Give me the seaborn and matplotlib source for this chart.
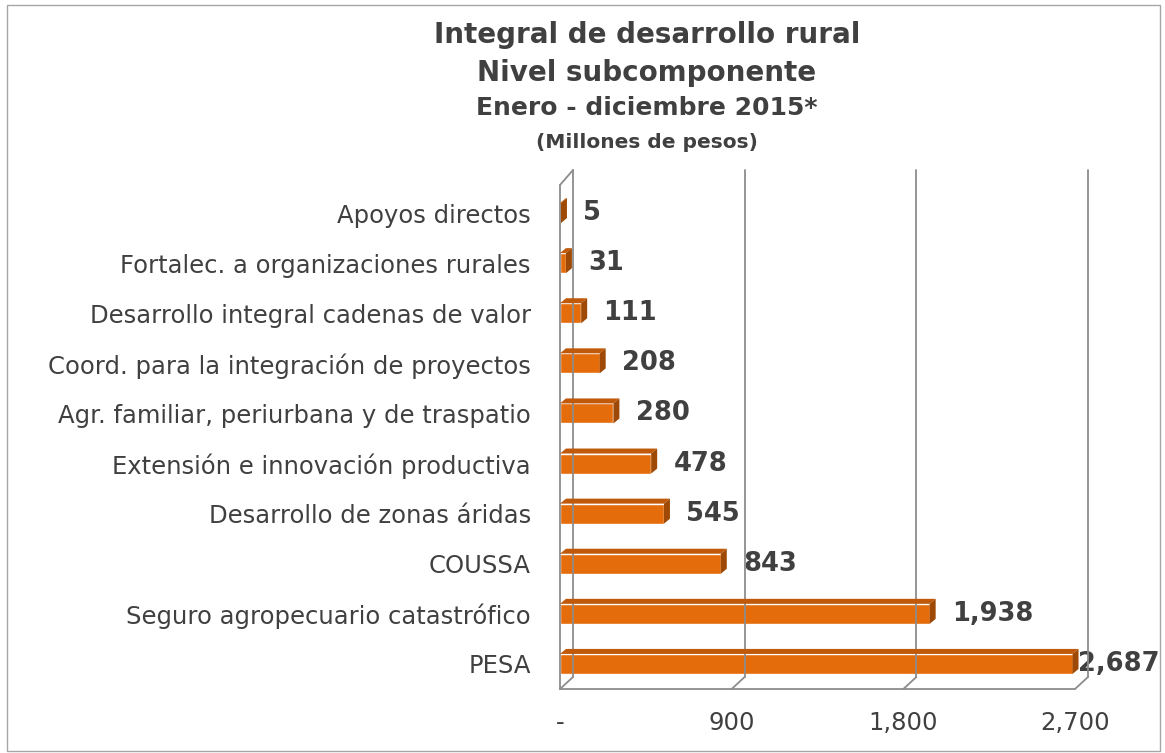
import matplotlib
matplotlib.use('Agg')
import matplotlib.pyplot as plt
import seaborn as sb
import numpy as np
import pandas as pd
from matplotlib.patches import Polygon, Rectangle
from matplotlib.lines import Line2D

categorias = ['Apoyos directos', 'Fortalec. a organizaciones rurales',
              'Desarrollo integral cadenas de valor',
              'Coord. para la integración de proyectos',
              'Agr. familiar, periurbana y de traspatio',
              'Extensión e innovación productiva', 'Desarrollo de zonas áridas',
              'COUSSA', 'Seguro agropecuario catastrófico', 'PESA']
valores = [5, 31, 111, 208, 280, 478, 545, 843, 1938, 2687]
ticks_x = [0, 900, 1800, 2700]
etiquetas_x = ['-', '900', '1,800', '2,700']

naranja = '#E46C0A'
naranja_sup = '#C0590A'
naranja_lado = '#9E4A06'
gris_txt = '#404040'
gris_linea = '#8C8C8C'

sb.set_style('white')
plt.rcParams['font.family'] = ['DejaVu Sans']

fig = plt.figure(figsize=(11.65, 7.53), dpi=100)
ax = fig.add_axes([560 / 1165, 64 / 753, 515 / 1165, 501 / 753])

df = pd.DataFrame({'categoria': categorias, 'valor': valores})
sb.barplot(data=df, x='valor', y='categoria', orient='h', color=naranja,
           width=0.4, saturation=1, ax=ax, zorder=3)
ax.set_xlim(0, 2700)
ax.set_ylim(9.5, -0.5)
for s in ax.spines.values():
    s.set_visible(False)
ax.set_xlabel('')
ax.set_ylabel('')
ax.set_xticks(ticks_x)
ax.set_xticklabels(etiquetas_x, fontsize=17.5, color=gris_txt)
ax.tick_params(axis='x', length=0, pad=16)
ax.tick_params(axis='y', length=0, pad=21, labelsize=17.5, labelcolor=gris_txt)

# pseudo 3D en coordenadas de pixel
fig.canvas.draw()
inv = fig.transFigure.inverted()
dxp, dyp = 13, 12   # profundidad de la pared
bx, by = 6, 5       # profundidad de las barras


def linea(p1, p2, **kw):
    a = inv.transform([p1, p2])
    fig.add_artist(Line2D(a[:, 0], a[:, 1], transform=fig.transFigure, **kw))


def poligono(pts, **kw):
    fig.add_artist(Polygon(inv.transform(pts), closed=True, transform=fig.transFigure, **kw))


y0 = ax.transData.transform((0, 9.5))[1]
y1 = ax.transData.transform((0, -0.5))[1]
kw = dict(color=gris_linea, lw=1.3, zorder=1)
for t in ticks_x:
    xt = ax.transData.transform((t, 0))[0]
    linea((xt + dxp, y0 + dyp), (xt + dxp, y1 + dyp + 6), **kw)
    linea((xt, y0), (xt + dxp, y0 + dyp), **kw)
x0 = ax.transData.transform((0, 0))[0]
xe = ax.transData.transform((2700, 0))[0]
linea((x0, y0), (xe, y0), **kw)
linea((x0, y0), (x0, y1 + 3), **kw)
linea((x0, y1 + 3), (x0 + dxp, y1 + dyp + 6), **kw)

for p in ax.patches:
    c = ax.transData.transform([[p.get_x(), p.get_y()],
                                [p.get_x() + p.get_width(), p.get_y() + p.get_height()]])
    xl, xr = c[:, 0].min(), c[:, 0].max()
    yb, yt = c[:, 1].min(), c[:, 1].max()
    poligono([(xl, yt), (xr, yt), (xr + bx, yt + by), (xl + bx, yt + by)],
             facecolor=naranja_sup, edgecolor='none', zorder=4)
    poligono([(xr, yb), (xr, yt), (xr + bx, yt + by), (xr + bx, yb + by)],
             facecolor=naranja_lado, edgecolor='none', zorder=4)

# etiquetas de valor; se recorren si se salen por la derecha
rend = fig.canvas.get_renderer()
limite = 1160
for i, v in enumerate(valores):
    t = ax.annotate(f'{v:,}', xy=(v, i), xytext=(16, 0), textcoords='offset points',
                    ha='left', va='center', fontsize=18.5, fontweight='bold',
                    color=gris_txt, zorder=5)
    bb = t.get_window_extent(rend)
    if bb.x1 > limite:
        t.set_position((16 - (bb.x1 - limite) * 72 / fig.dpi, 0))

# titulos
fig.text(647 / 1165, 1 - 35 / 753, 'Integral de desarrollo rural', ha='center', va='center',
         fontsize=20, fontweight='bold', color=gris_txt)
fig.text(647 / 1165, 1 - 73 / 753, 'Nivel subcomponente', ha='center', va='center',
         fontsize=20, fontweight='bold', color=gris_txt)
fig.text(647 / 1165, 1 - 108 / 753, 'Enero - diciembre 2015*', ha='center', va='center',
         fontsize=18, fontweight='bold', color=gris_txt)
fig.text(647 / 1165, 1 - 142 / 753, '(Millones de pesos)', ha='center', va='center',
         fontsize=14.5, fontweight='bold', color=gris_txt)

fig.add_artist(Rectangle((7 / 1165, 2 / 753), 1153 / 1165, 746 / 753, transform=fig.transFigure,
                         fill=False, edgecolor='#A6A6A6', lw=1))

fig.savefig('out.png', dpi=100)
